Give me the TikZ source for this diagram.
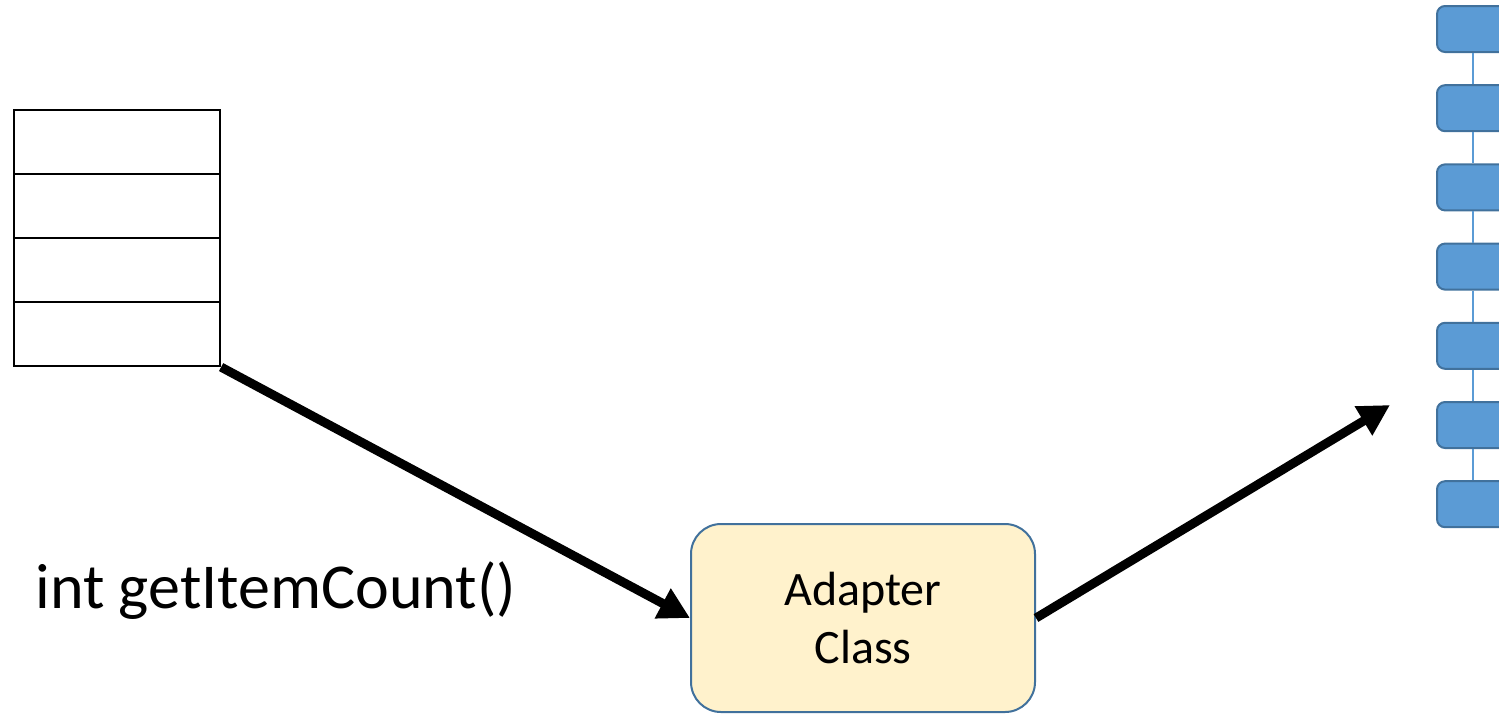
\documentclass[tikz,border=0pt]{standalone}
\usepackage{fontspec}
\setmainfont{Carlito}
\usetikzlibrary{arrows.meta}

\definecolor{itemblue}{HTML}{5B9BD5}
\definecolor{itemedge}{HTML}{41719C}
\definecolor{adaptfill}{HTML}{FFF2CC}

\begin{document}
\begin{tikzpicture}[x=0.5pt,y=-0.5pt,>={Triangle[length=15.5pt,width=16pt]},
  cell/.style={draw=black,line width=1.1pt,minimum width=103pt,minimum height=32pt,inner sep=0pt},
  item/.style={draw=itemedge,line width=1pt,fill=itemblue,rounded corners=4pt,
    minimum width=36pt,minimum height=23pt,inner sep=0pt},
  adapter/.style={draw=itemedge,line width=1pt,fill=adaptfill,rounded corners=15pt,
    minimum width=172pt,minimum height=94pt,align=center,
    font=\fontsize{24pt}{29pt}\selectfont},
  link/.style={draw=itemblue,line width=0.7pt},
  flow/.style={->,line width=4.5pt}]
  \useasboundingbox (0,0) rectangle (1499,714);
  \clip (0,0) rectangle (1499,714);

  % data set
  \foreach \i in {1,...,4}
    \node[cell] (row\i) at (117,78+64*\i) {};

  % list on the screen
  \foreach \i in {1,...,7}
    \node[item] (item\i) at (1473,29+79.2*\i-79.2) {};
  \foreach \i [evaluate=\i as \j using int(\i+1)] in {1,...,6}
    \draw[link] (item\i.south) -- (item\j.north);

  \node[adapter] (adapter) at (863,618) {Adapter\\Class};

  \node[anchor=base west,inner sep=0pt,font=\fontsize{32pt}{38pt}\selectfont]
    (count) at (35,608) {int getItemCount()};

  \coordinate (view) at (1390,405);
  \draw[flow] (row4.south east) -- (adapter.west);
  \draw[flow] (adapter.east) -- (view);
\end{tikzpicture}
\end{document}
